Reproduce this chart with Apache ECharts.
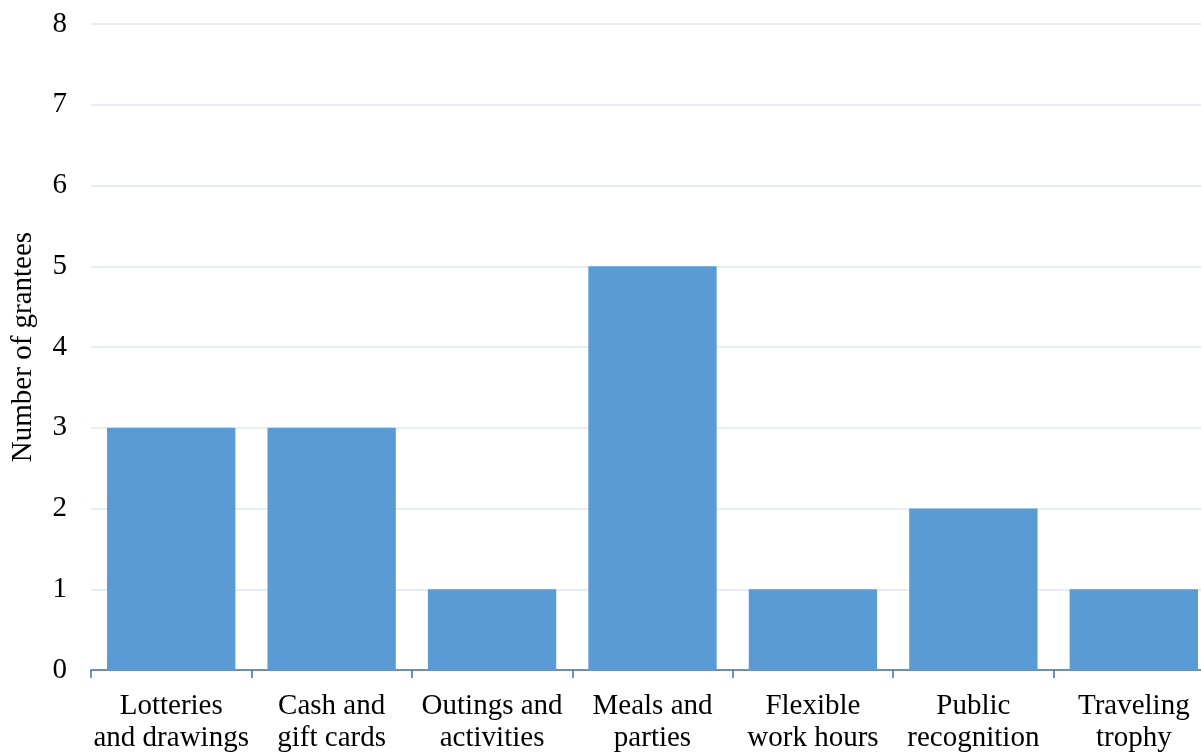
<!DOCTYPE html>
<html>
<head>
<meta charset="utf-8">
<script src="https://cdn.jsdelivr.net/npm/echarts@6/dist/echarts.min.js"></script>
<style>
  html, body { margin: 0; padding: 0; background: #fff; }
  #chart { width: 1201px; height: 752px; }
</style>
</head>
<body>
<div id="chart"></div>
<script>
  var categories = ['Lotteries\nand drawings', 'Cash and\ngift cards', 'Outings and\nactivities', 'Meals and\nparties', 'Flexible\nwork hours', 'Public\nrecognition', 'Traveling\ntrophy'];
  var grantees = [3, 3, 1, 5, 1, 2, 1];

  var serif = '"Liberation Serif", "DejaVu Serif", serif';

  var option = {
    animation: false,
    grid: { left: 91, top: 24, width: 1123, height: 646, outerBoundsMode: 'none' },
    xAxis: {
      type: 'category',
      data: categories,
      axisLine: { lineStyle: { color: '#41719C', width: 1.5 } },
      axisTick: { show: true, length: 8, lineStyle: { color: '#41719C', width: 1.5 } },
      axisLabel: { interval: 0, color: '#000', fontFamily: serif, fontSize: 29, lineHeight: 32, margin: 20 }
    },
    yAxis: {
      type: 'value',
      min: 0, max: 8, interval: 1,
      name: 'Number of grantees',
      nameLocation: 'middle',
      nameGap: 53,
      nameTextStyle: { color: '#000', fontFamily: serif, fontSize: 29 },
      axisLine: { show: false },
      axisTick: { show: false },
      axisLabel: { color: '#000', fontFamily: serif, fontSize: 29, margin: 24 },
      splitLine: { lineStyle: { color: '#DCE8F4', width: 1.5 } }
    },
    series: [{
      type: 'bar',
      data: grantees,
      barCategoryGap: '20%',
      itemStyle: { color: '#5B9BD5' }
    }]
  };

  echarts.init(document.getElementById('chart')).setOption(option);
</script>
</body>
</html>
